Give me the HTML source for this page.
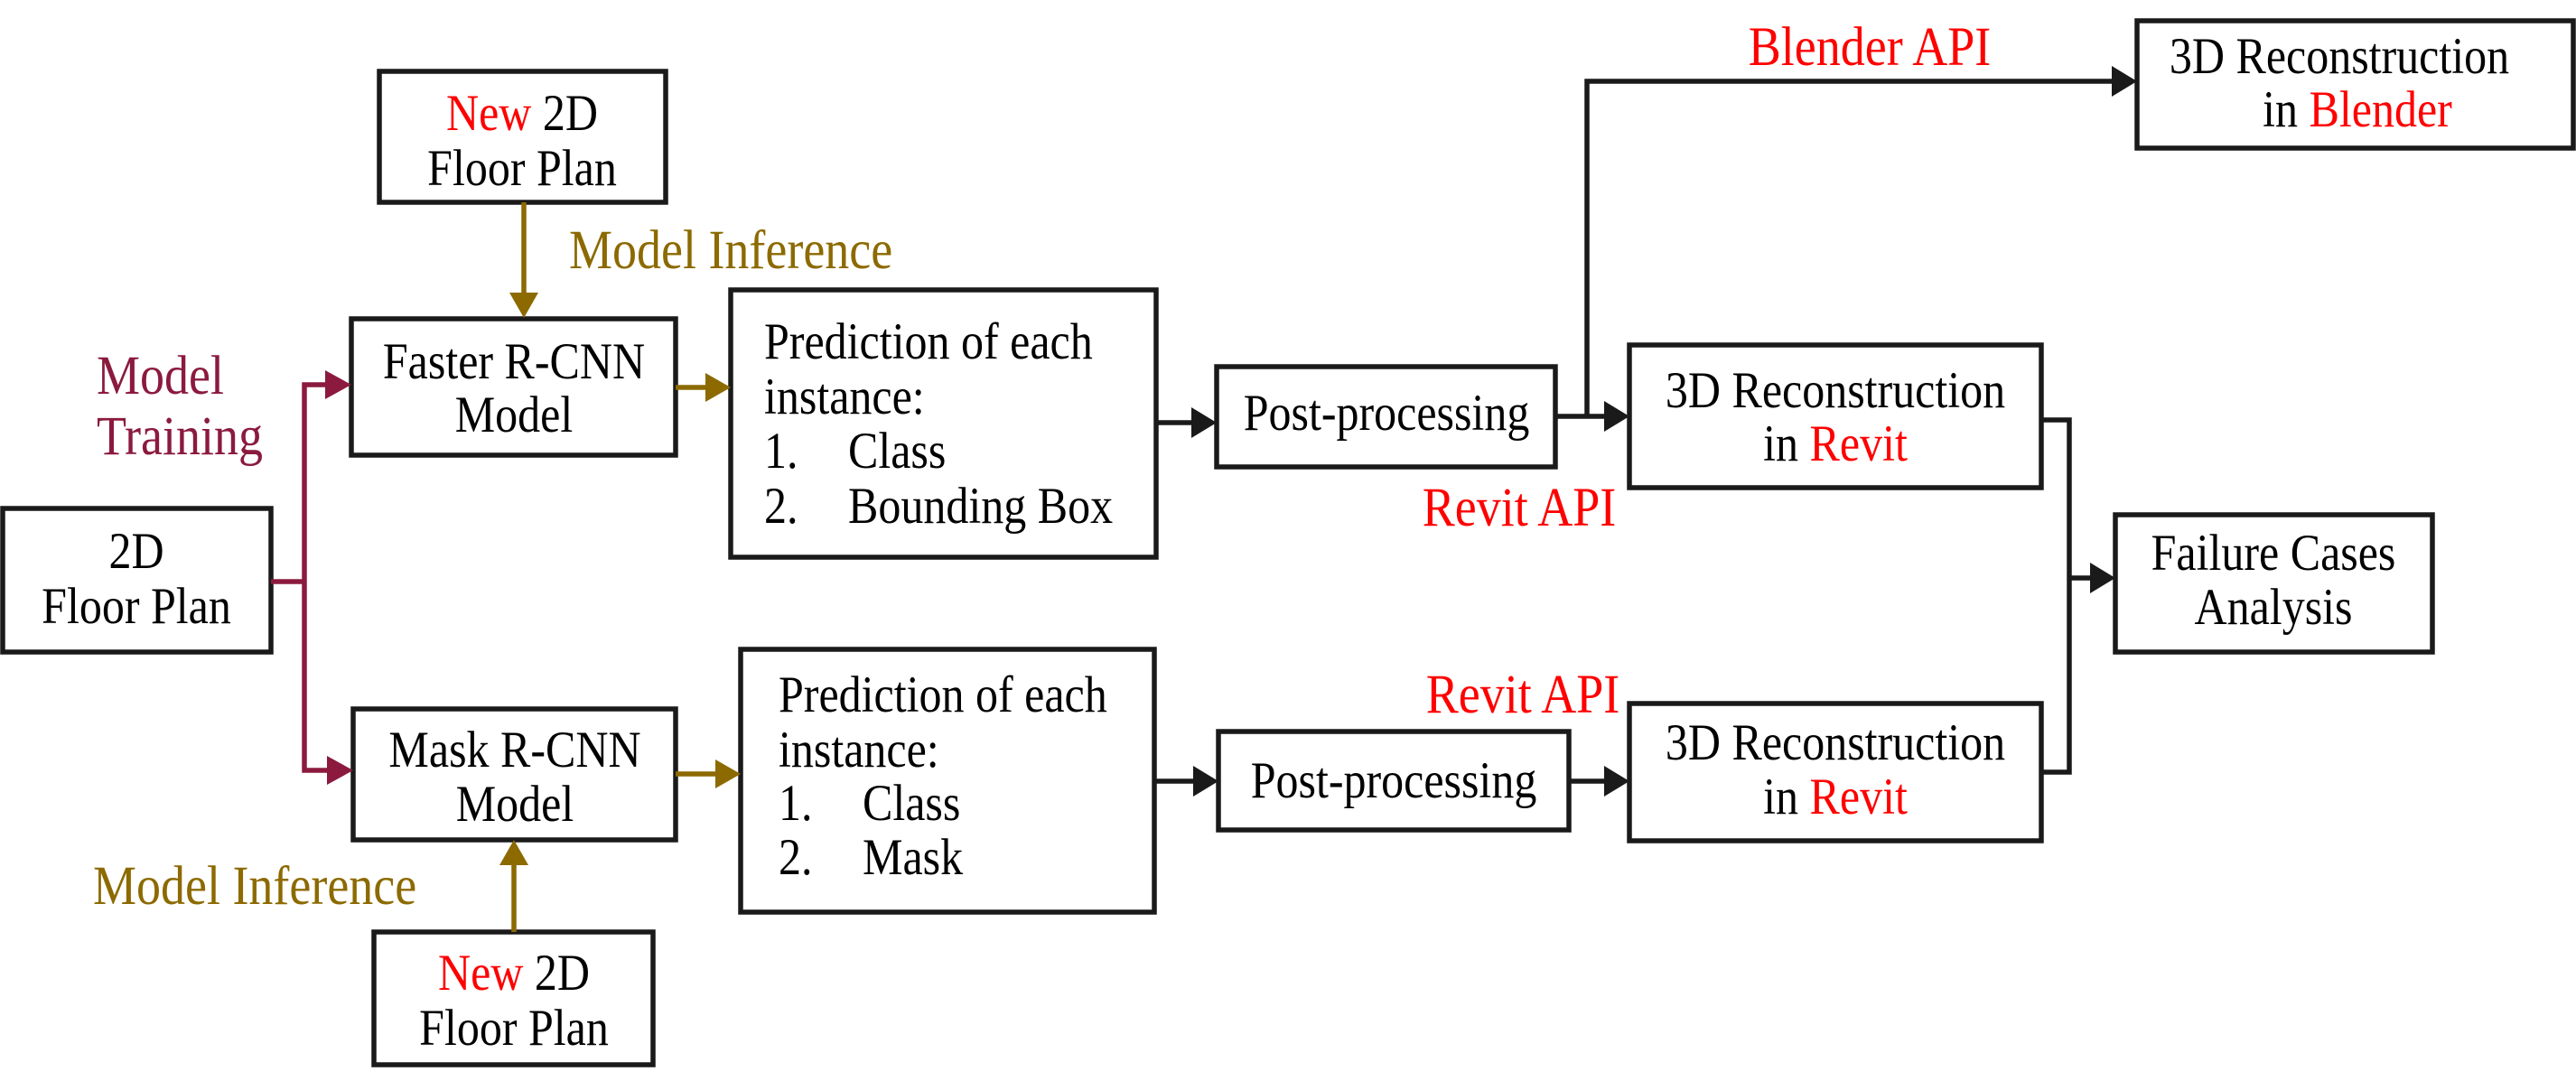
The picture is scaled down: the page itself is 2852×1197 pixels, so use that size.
<!DOCTYPE html>
<html><head><meta charset="utf-8"><style>
html,body{margin:0;padding:0;background:#fff;}
svg{display:block;}
svg, text, tspan{font-family:"Liberation Serif","Noto Serif CJK SC","DejaVu Serif",serif;}
</style></head><body>
<svg width="2852" height="1197" viewBox="0 0 2852 1197" xmlns="http://www.w3.org/2000/svg" font-family="'Liberation Serif', 'Noto Serif CJK SC', 'DejaVu Serif', serif">
<g fill="none" stroke="#1a1a1a" stroke-width="5.5">
<rect x="420" y="79" width="317" height="145"/>
<rect x="389" y="353" width="359" height="151"/>
<rect x="809" y="321" width="471" height="296"/>
<rect x="3" y="563" width="297" height="159"/>
<rect x="391" y="785" width="357" height="145"/>
<rect x="820" y="719" width="458" height="291"/>
<rect x="414" y="1032" width="309" height="147"/>
<rect x="1347" y="406" width="375" height="111"/>
<rect x="1349" y="810" width="388" height="109"/>
<rect x="1804" y="382" width="456" height="158"/>
<rect x="1804" y="779" width="456" height="152"/>
<rect x="2366" y="23" width="483" height="141"/>
<rect x="2342" y="570" width="351" height="152"/>
<line x1="1280" y1="468" x2="1322" y2="468"/>
<line x1="1278" y1="865" x2="1324" y2="865"/>
<line x1="1722" y1="461" x2="1778" y2="461"/>
<line x1="1737" y1="865" x2="1778" y2="865"/>
<polyline points="1757,461 1757,90 2340,90"/>
<polyline points="2260,465 2291,465 2291,855 2260,855"/>
<line x1="2291" y1="640" x2="2316" y2="640"/>
</g>
<g fill="#1a1a1a">
<polygon points="1319,451 1347,468 1319,485"/>
<polygon points="1321,848 1349,865 1321,882"/>
<polygon points="1776,444 1804,461 1776,478"/>
<polygon points="1776,848 1804,865 1776,882"/>
<polygon points="2338,73 2366,90 2338,107"/>
<polygon points="2314,623 2342,640 2314,657"/>
</g>
<g fill="none" stroke="#8b1a3e" stroke-width="5.5">
<line x1="300" y1="644" x2="337" y2="644"/>
<polyline points="364,426 337,426 337,853 364,853"/>
</g>
<g fill="#8b1a3e">
<polygon points="360,410 389,426 360,442"/>
<polygon points="362,837 391,853 362,869"/>
</g>
<g fill="none" stroke="#8c6a00" stroke-width="5.5">
<line x1="580" y1="224" x2="580" y2="328"/>
<line x1="748" y1="429" x2="784" y2="429"/>
<line x1="748" y1="857" x2="795" y2="857"/>
<line x1="569" y1="1032" x2="569" y2="956"/>
</g>
<g fill="#8c6a00">
<polygon points="564,324 596,324 580,352"/>
<polygon points="781,413 809,429 781,445"/>
<polygon points="792,841 820,857 792,873"/>
<polygon points="553,958 585,958 569,930"/>
</g>
<g font-size="50" fill="#000" text-anchor="middle">
<text transform="translate(578,144) scale(1,1.14)"><tspan fill="#ff0000">New</tspan> 2D</text>
<text transform="translate(578,205) scale(1,1.14)">Floor Plan</text>
<text transform="translate(569,419) scale(1,1.14)">Faster R-CNN</text>
<text transform="translate(569,478) scale(1,1.14)">Model</text>
<text transform="translate(151,629) scale(1,1.14)">2D</text>
<text transform="translate(151,690) scale(1,1.14)">Floor Plan</text>
<text transform="translate(570,849) scale(1,1.14)">Mask R-CNN</text>
<text transform="translate(570,909) scale(1,1.14)">Model</text>
<text transform="translate(569,1096) scale(1,1.14)"><tspan fill="#ff0000">New</tspan> 2D</text>
<text transform="translate(569,1157) scale(1,1.14)">Floor Plan</text>
<text transform="translate(1535,476) scale(1,1.14)">Post-processing</text>
<text transform="translate(1543,883) scale(1,1.14)">Post-processing</text>
<text transform="translate(2032,451) scale(1,1.14)">3D Reconstruction</text>
<text transform="translate(2032,510) scale(1,1.14)">in <tspan fill="#ff0000">Revit</tspan></text>
<text transform="translate(2032,841) scale(1,1.14)">3D Reconstruction</text>
<text transform="translate(2032,901) scale(1,1.14)">in <tspan fill="#ff0000">Revit</tspan></text>
<text transform="translate(2590,81) scale(1,1.14)">3D Reconstruction</text>
<text transform="translate(2610,140) scale(1,1.14)">in <tspan fill="#ff0000">Blender</tspan></text>
<text transform="translate(2517,631) scale(1,1.14)">Failure Cases</text>
<text transform="translate(2517,691) scale(1,1.14)">Analysis</text>
</g>
<g font-size="50" fill="#000">
<text transform="translate(846,397) scale(1,1.14)">Prediction of each</text>
<text transform="translate(846,458) scale(1,1.14)">instance:</text>
<text transform="translate(846,518) scale(1,1.14)">1.</text>
<text transform="translate(939,518) scale(1,1.14)">Class</text>
<text transform="translate(846,579) scale(1,1.14)">2.</text>
<text transform="translate(939,579) scale(1,1.14)">Bounding Box</text>
<text transform="translate(862,788) scale(1,1.14)">Prediction of each</text>
<text transform="translate(862,849) scale(1,1.14)">instance:</text>
<text transform="translate(862,908) scale(1,1.14)">1.</text>
<text transform="translate(955,908) scale(1,1.14)">Class</text>
<text transform="translate(862,968) scale(1,1.14)">2.</text>
<text transform="translate(955,968) scale(1,1.14)">Mask</text>
</g>
<g font-size="54">
<text fill="#8b1a3e" transform="translate(107,436) scale(1,1.14)">Model</text>
<text fill="#8b1a3e" transform="translate(107,503) scale(1,1.14)">Training</text>
<text fill="#8c6a00" transform="translate(630,297) scale(1,1.14)">Model Inference</text>
<text fill="#8c6a00" transform="translate(103,1001) scale(1,1.14)">Model Inference</text>
<text fill="#ff0000" text-anchor="middle" transform="translate(2070,72) scale(1,1.14)">Blender API</text>
<text fill="#ff0000" text-anchor="middle" transform="translate(1682,582) scale(1,1.14)">Revit API</text>
<text fill="#ff0000" text-anchor="middle" transform="translate(1686,789) scale(1,1.14)">Revit API</text>
</g>
</svg>
</body></html>
